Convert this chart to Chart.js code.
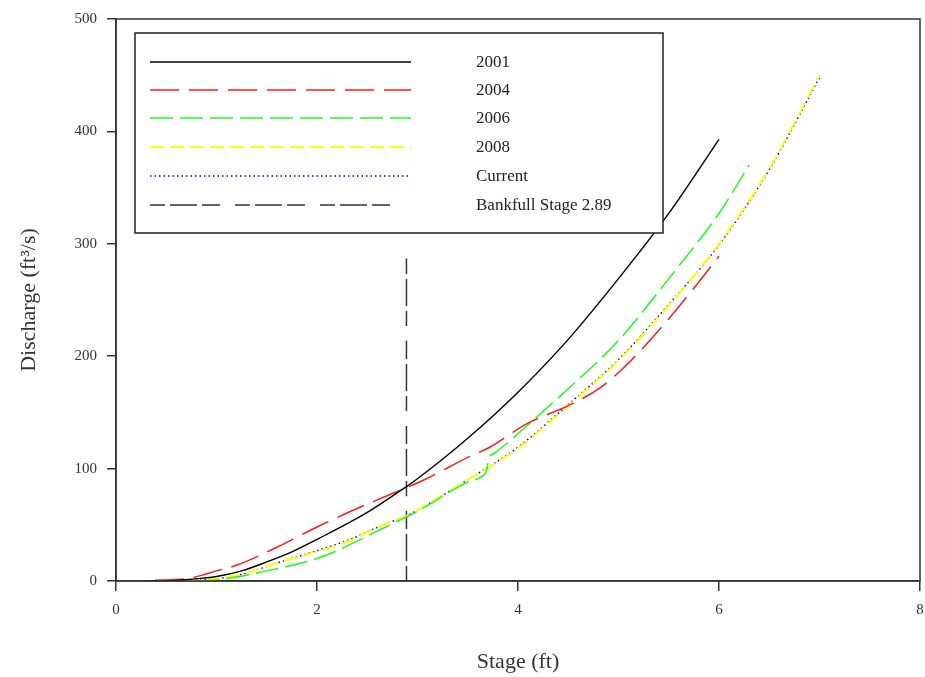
<!DOCTYPE html>
<html>
<head>
<meta charset="utf-8">
<script src="https://cdn.jsdelivr.net/npm/chart.js@4/dist/chart.umd.min.js"></script>
<style>
  html, body { margin: 0; padding: 0; background: #fff; }
  #wrap { width: 925px; height: 677px; }
</style>
</head>
<body>
<div id="wrap"><canvas id="ratingChart" width="925" height="677"></canvas></div>
<script>
// ======================================
// Data
// ======================================
const stage2001 = [0.3, 0.6, 0.8, 1.0, 1.25, 1.5, 1.75, 2.0, 2.5, 2.89, 3.0, 3.5, 4.0, 4.5, 5.0, 5.5, 6.0];
const q2001     = [0, 0.5, 2, 4, 9, 17, 26, 37, 61, 84, 91, 127, 168, 215, 269, 327, 393];

const stage2004 = [0, 0.3, 0.5, 0.7, 0.85, 1.0, 1.2, 1.6, 2.0, 2.41, 2.89, 3.09, 3.5, 3.72, 4.09, 4.5, 4.82, 5.1, 5.46, 5.79, 6.0];
const q2004     = [0, 0.3, 1, 2, 5, 9, 14, 30, 48, 65, 83, 91, 110, 119, 140, 156, 172, 194, 229, 265, 289];

const stage2006 = [0.8, 1.0, 1.23, 1.5, 2.0, 2.25, 2.5, 2.89, 3.0, 3.5, 3.62, 3.69, 3.71, 3.77, 4.0, 4.15, 4.5, 5.0, 5.5, 6.0, 6.3];
const q2006     = [0, 1, 4, 9, 20, 29, 40, 57, 62, 88, 92, 99, 109, 114, 131, 143, 171, 214, 269, 327, 370];

const stage2008 = [0.7, 1.0, 1.3, 1.6, 2.0, 2.33, 2.66, 2.89, 3.0, 3.5, 4.0, 4.5, 5.0, 5.5, 6.0, 6.5, 7.0];
const q2008     = [0, 2, 7, 16, 26, 36, 50, 58, 63, 90, 118, 156, 196, 245, 300, 367, 450];

const stageCurrent = [0.7, 1.0, 1.3, 1.6, 2.0, 2.33, 2.66, 2.89, 3.0, 3.5, 4.0, 4.5, 5.0, 5.5, 6.0, 6.5, 7.0];
const qCurrent     = [0, 2, 7, 16, 27, 37, 50, 58, 63, 90, 119, 157, 197, 246, 299, 366, 448];

const stageBank = [2.89, 2.89];
const qBank     = [0, 287];

const xTicks = [0, 2, 4, 6, 8];
const yTicks = [0, 100, 200, 300, 400, 500];

const seriesNames = ['2001', '2004', '2006', '2008', 'Current', 'Bankfull Stage 2.89'];

// ======================================
// Helpers
// ======================================
function toPoints(xs, ys) {
    return xs.map((x, i) => ({ x: x, y: ys[i] }));
}

function lineSet(label, xs, ys, color, dash, width) {
    return {
        label: label,
        data: toPoints(xs, ys),
        showLine: true,
        borderColor: color,
        borderWidth: width || 1.5,
        borderDash: dash,
        pointRadius: 0,
        fill: false,
        cubicInterpolationMode: 'monotone'
    };
}

const SERIF = "'Liberation Serif', 'DejaVu Serif', serif";
const bankDash = [15, 5, 27, 5, 18, 15];

// frame + legend box drawn by hand, like the SigmaPlot original
const framePlugin = {
    id: 'frameAndLegend',
    afterDatasetsDraw(chart) {
        const ctx = chart.ctx;
        const a = chart.chartArea;
        ctx.save();
        ctx.strokeStyle = '#333';
        ctx.lineWidth = 1.5;
        ctx.setLineDash([]);
        ctx.strokeRect(a.left, a.top, a.right - a.left, a.bottom - a.top);

        // legend box
        ctx.fillStyle = '#fff';
        ctx.fillRect(135, 33, 528, 200);
        ctx.strokeStyle = '#222';
        ctx.strokeRect(135, 33, 528, 200);

        const rowsY = [62, 90, 118, 147, 176, 205];
        const sets = chart.data.datasets;
        ctx.font = '17px ' + SERIF;
        ctx.textBaseline = 'middle';
        sets.forEach((ds, i) => {
            const y = rowsY[i];
            ctx.beginPath();
            ctx.strokeStyle = ds.borderColor;
            ctx.lineWidth = ds.borderWidth;
            ctx.setLineDash(ds.borderDash || []);
            ctx.moveTo(150, y);
            ctx.lineTo(i === 5 ? 398 : 411, y);
            ctx.stroke();
            ctx.setLineDash([]);
            ctx.fillStyle = '#222';
            ctx.fillText(seriesNames[i], 476, y + 1);
        });
        ctx.restore();
    }
};

// ======================================
// Chart
// ======================================
const ctx = document.getElementById('ratingChart').getContext('2d');
const chart = new Chart(ctx, {
    type: 'scatter',
    data: {
        datasets: [
            lineSet(seriesNames[0], stage2001, q2001, '#000000', [], 1.4),
            lineSet(seriesNames[1], stage2004, q2004, '#ff1a1a', [29, 10]),
            lineSet(seriesNames[2], stage2006, q2006, '#1aff1a', [23, 7]),
            lineSet(seriesNames[3], stage2008, q2008, '#ffff00', [14, 6], 2),
            lineSet(seriesNames[4], stageCurrent, qCurrent, '#0000ff', [1.5, 3]),
            lineSet(seriesNames[5], stageBank, qBank, '#333333', bankDash)
        ]
    },
    options: {
        responsive: false,
        animation: false,
        layout: { padding: { top: 18, right: 5, left: 0, bottom: 0 } },
        plugins: {
            legend: { display: false },
            tooltip: { enabled: false }
        },
        scales: {
            x: {
                type: 'linear',
                min: 0,
                max: 8,
                afterBuildTicks: (s) => { s.ticks = xTicks.map(v => ({ value: v })); },
                afterFit: (s) => { s.height = 96; s.paddingRight = 0; s.paddingLeft = 0; },
                border: { display: true, color: '#333', width: 1.5 },
                grid: { drawOnChartArea: false, drawTicks: true, tickLength: 10, color: '#333', lineWidth: 1.5 },
                ticks: { color: '#333', padding: 10, font: { family: SERIF, size: 15 } },
                title: { display: true, text: 'Stage (ft)', color: '#333', padding: { top: 0, bottom: 2 }, font: { family: SERIF, size: 22 } }
            },
            y: {
                type: 'linear',
                min: 0,
                max: 500,
                afterBuildTicks: (s) => { s.ticks = yTicks.map(v => ({ value: v })); },
                afterFit: (s) => { s.width = 116; },
                border: { display: true, color: '#333', width: 1.5 },
                grid: { drawOnChartArea: false, drawTicks: true, tickLength: 9, color: '#333', lineWidth: 1.5 },
                ticks: { color: '#333', padding: 10, font: { family: SERIF, size: 15 } },
                title: { display: true, text: 'Discharge (ft³/s)', color: '#333', padding: { top: 16, bottom: 0 }, font: { family: SERIF, size: 22 } }
            }
        }
    },
    plugins: [framePlugin]
});
</script>
</body>
</html>
